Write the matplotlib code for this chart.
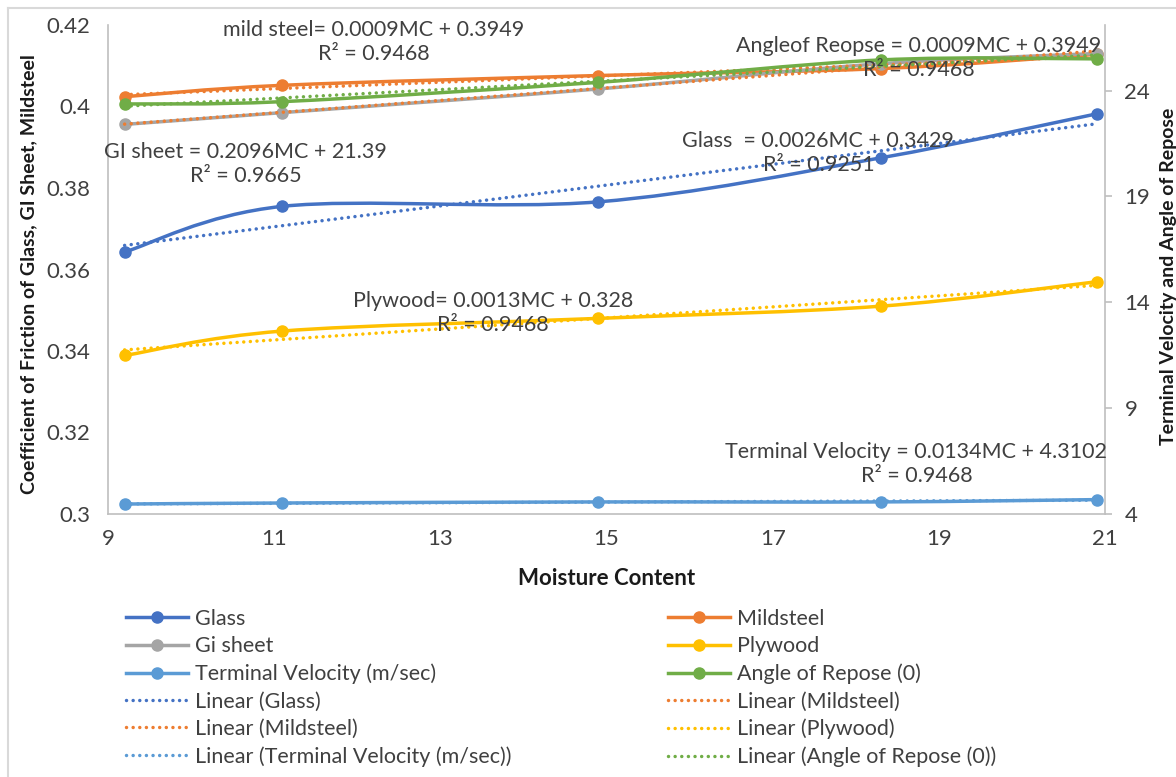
import numpy as np
import matplotlib
matplotlib.use("Agg")
import matplotlib.pyplot as plt
from matplotlib.path import Path
from matplotlib.patches import PathPatch
from matplotlib.lines import Line2D
from matplotlib.ticker import FuncFormatter

plt.rcParams["font.family"] = ["Lato", "DejaVu Sans"]

# moisture content (x) shared by every series
moisture = [9.2, 11.1, 14.9, 18.3, 20.9]

# primary axis: coefficient of friction
glass = [0.3643, 0.3755, 0.3766, 0.3874, 0.3982]
mildsteel = [0.4024, 0.4052, 0.4076, 0.4093, 0.4128]
gi_sheet = [0.3956, 0.3985, 0.4043, 0.4105, 0.4130]
plywood = [0.3389, 0.3449, 0.3480, 0.3510, 0.3570]

# secondary axis
terminal_velocity = [4.47, 4.52, 4.57, 4.57, 4.68]
angle_of_repose = [23.37, 23.48, 24.39, 25.45, 25.50]

left_ticks = [0.30, 0.32, 0.34, 0.36, 0.38, 0.40, 0.42]
right_ticks = [4, 9, 14, 19, 24]
x_ticks = [9, 11, 13, 15, 17, 19, 21]

BLUE = "#4472C4"
ORANGE = "#ED7D31"
GRAY = "#A5A5A5"
YELLOW = "#FFC000"
LBLUE = "#5B9BD5"
GREEN = "#70AD47"
TXT = "#404040"
SPINE = "#BFBFBF"

LW = 2.5
MS = 8
DOT = (0, (0.01, 1.9))


def smooth_path(xs, ys):
    # excel-like smoothed line: catmull-rom segments as cubic beziers
    pts = np.column_stack([xs, ys]).astype(float)
    n = len(pts)
    verts = [pts[0]]
    codes = [Path.MOVETO]
    for i in range(n - 1):
        p0 = pts[max(i - 1, 0)]
        p1 = pts[i]
        p2 = pts[i + 1]
        p3 = pts[min(i + 2, n - 1)]
        verts += [p1 + (p2 - p0) / 6, p2 - (p3 - p1) / 6, p2]
        codes += [Path.CURVE4] * 3
    return Path(verts, codes)


def series(ax, ys, color, z):
    ax.add_patch(PathPatch(smooth_path(moisture, ys), fill=False, edgecolor=color,
                           lw=LW, capstyle="round", joinstyle="round", zorder=z))
    ax.plot(moisture, ys, ls="none", marker="o", ms=MS, color=color, zorder=z + 0.1)


def trend(ax, ys, color, z):
    slope, icpt = np.polyfit(moisture, ys, 1)
    xs = np.array([moisture[0], moisture[-1]])
    ax.plot(xs, slope * xs + icpt, color=color, lw=LW, ls=DOT,
            dash_capstyle="round", zorder=z)


fig = plt.figure(figsize=(11.76, 7.77), dpi=100)
ax = fig.add_axes([108 / 1176, 263 / 777, 997 / 1176, 489 / 777])
ax2 = ax.twinx()

ax.set_xlim(9, 21)
ax.set_ylim(0.3, 0.42)
ax2.set_ylim(4, 27.1)

series(ax, glass, BLUE, 2)
series(ax, mildsteel, ORANGE, 2.2)
series(ax, gi_sheet, GRAY, 2.4)
series(ax, plywood, YELLOW, 2.6)
trend(ax, glass, BLUE, 3)
trend(ax, mildsteel, ORANGE, 3.1)
trend(ax, gi_sheet, ORANGE, 3.2)
trend(ax, plywood, YELLOW, 3.3)

series(ax2, terminal_velocity, LBLUE, 2)
series(ax2, angle_of_repose, GREEN, 2.2)
trend(ax2, terminal_velocity, LBLUE, 3)
trend(ax2, angle_of_repose, GREEN, 3.1)

# axes styling
for a in (ax, ax2):
    a.spines["top"].set_visible(False)
    for s in ("left", "right", "bottom"):
        a.spines[s].set_color(SPINE)
        a.spines[s].set_linewidth(1.2)
ax2.spines["left"].set_visible(False)
ax2.spines["bottom"].set_visible(False)
ax.spines["right"].set_visible(False)

ax.set_xticks(x_ticks)
ax.set_yticks(left_ticks)
ax.yaxis.set_major_formatter(FuncFormatter(lambda v, p: f"{round(v, 2):g}"))
ax2.set_yticks(right_ticks)
ax.tick_params(axis="y", length=0, pad=13, labelsize=16, labelcolor=TXT)
ax.tick_params(axis="x", length=0, pad=11, labelsize=16, labelcolor=TXT)
ax2.tick_params(axis="y", length=5, width=1.2, color=SPINE, direction="out",
                pad=9, labelsize=16, labelcolor=TXT)

ax.set_xlabel("Moisture Content", fontsize=16, fontweight="bold", color="#1a1a1a")
ax.xaxis.set_label_coords(0.5, -0.11)
ax.set_ylabel("Coefficient of Friction of Glass, GI Sheet, Mildsteel", fontsize=14,
              fontweight="bold", color="#1a1a1a")
ax.yaxis.set_label_coords(-0.071, 0.49)
ax2.set_ylabel("Terminal Velocity and Angle of Repose", fontsize=14,
               fontweight="bold", color="#1a1a1a", rotation=90)
ax2.yaxis.set_label_coords(1.055, 0.485)

# trendline equations (as typed in the source chart)
labels = [
    (12.2, 0.4158, "mild steel= 0.0009MC + 0.3949\nR² = 0.9468"),
    (10.66, 0.3859, "GI sheet = 0.2096MC + 21.39\nR² = 0.9665"),
    (18.76, 0.4118, "Angleof Reopse = 0.0009MC + 0.3949\nR² = 0.9468"),
    (17.55, 0.3886, "Glass  = 0.0026MC + 0.3429\nR² = 0.9251"),
    (13.63, 0.3494, "Plywood= 0.0013MC + 0.328\nR² = 0.9468"),
    (18.73, 0.3123, "Terminal Velocity = 0.0134MC + 4.3102\nR² = 0.9468"),
]
for lx, ly, s in labels:
    ax2.text(lx, ly, s, transform=ax.transData, ha="center", va="center",
             multialignment="center", fontsize=15.5, color=TXT, linespacing=1.25,
             zorder=10)

# legend, two columns as in the excel chart
def sh(c):
    return Line2D([], [], color=c, lw=LW, marker="o", ms=MS)


def th(c):
    return Line2D([], [], color=c, lw=LW, ls=DOT, dash_capstyle="round")


left_col = [
    (sh(BLUE), "Glass"),
    (sh(GRAY), "Gi sheet"),
    (sh(LBLUE), "Terminal Velocity (m/sec)"),
    (th(BLUE), "Linear (Glass)"),
    (th(ORANGE), "Linear (Mildsteel)"),
    (th(LBLUE), "Linear (Terminal Velocity (m/sec))"),
]
right_col = [
    (sh(ORANGE), "Mildsteel"),
    (sh(YELLOW), "Plywood"),
    (sh(GREEN), "Angle of Repose (0)"),
    (th(ORANGE), "Linear (Mildsteel)"),
    (th(YELLOW), "Linear (Plywood)"),
    (th(GREEN), "Linear (Angle of Repose (0))"),
]
for col, x0 in ((left_col, 126), (right_col, 668)):
    h, l = zip(*col)
    leg = fig.legend(h, l, loc="upper left", bbox_to_anchor=(x0 / 1176, 1 - 609 / 777),
                     frameon=False, fontsize=15.5, handlelength=2.9, handletextpad=0.3,
                     labelspacing=0.34, borderpad=0, borderaxespad=0)
    for t in leg.get_texts():
        t.set_color(TXT)

# chart area border (top and left edges visible)
fig.add_artist(Line2D([8 / 1176, 1], [1 - 8 / 777, 1 - 8 / 777], color="#D9D9D9", lw=1.5))
fig.add_artist(Line2D([8 / 1176, 8 / 1176], [0, 1 - 8 / 777], color="#D9D9D9", lw=1.5))

fig.savefig("out.png", dpi=100)
